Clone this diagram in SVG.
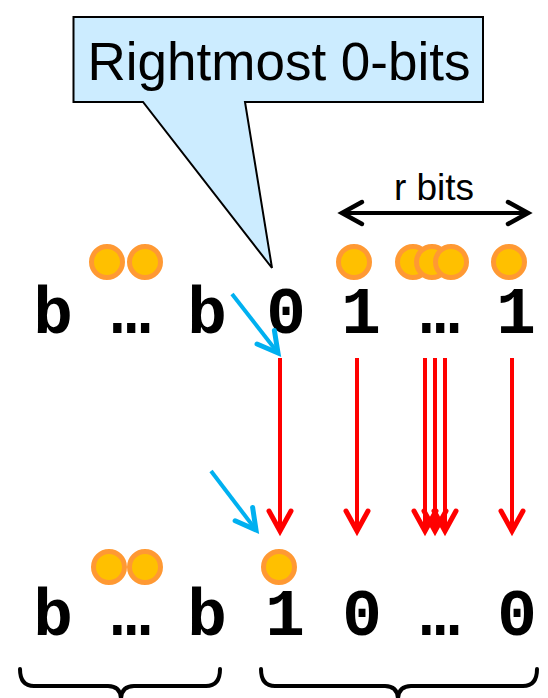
<svg xmlns="http://www.w3.org/2000/svg" width="548" height="698" viewBox="0 0 548 698">
  <style>
    .bit { font-family: "Liberation Mono", "Courier New", monospace; font-weight: bold; font-size: 66px; fill: #000; text-anchor: middle; }
    .label { font-family: "Liberation Sans", Arial, sans-serif; fill: #000; }
    .coin { fill: #FFC000; stroke: #FF9933; stroke-width: 5; }
    .red { stroke: #FF0000; stroke-width: 4; fill: none; marker-end: url(#redHead); }
    .blue { stroke: #00B0F0; stroke-width: 4; fill: none; marker-end: url(#blueHead); }
    .brace { stroke: #000; stroke-width: 4; fill: none; stroke-linecap: round; stroke-linejoin: round; }
  </style>
  <defs>
    <marker id="redHead" markerUnits="userSpaceOnUse" markerWidth="40" markerHeight="40" viewBox="-30 -20 40 40" refX="0" refY="0" orient="auto">
      <path d="M-20,-11 L0,0 L-20,11" fill="none" stroke="#FF0000" stroke-width="5" stroke-linecap="round"/>
    </marker>
    <marker id="blueHead" markerUnits="userSpaceOnUse" markerWidth="40" markerHeight="40" viewBox="-30 -20 40 40" refX="0" refY="0" orient="auto">
      <path d="M-20,-11 L0,0 L-20,11" fill="none" stroke="#00B0F0" stroke-width="5" stroke-linecap="round"/>
    </marker>
    <marker id="blackHead" markerUnits="userSpaceOnUse" markerWidth="40" markerHeight="40" viewBox="-30 -20 40 40" refX="0" refY="0" orient="auto-start-reverse">
      <path d="M-20,-11 L0,0 L-20,11" fill="none" stroke="#000" stroke-width="4.5" stroke-linecap="round"/>
    </marker>
  </defs>

  <rect width="548" height="698" fill="#fff"/>

  <!-- callout -->
  <g id="callout">
    <path d="M73.5,17 H483 V102 H245 L272,268 L143,102 H73.5 Z" fill="#CCECFF" stroke="#000" stroke-width="2"/>
    <text class="label" x="279" y="80" font-size="53" text-anchor="middle">Rightmost 0-bits</text>
  </g>

  <!-- r bits span -->
  <g id="rbits">
    <line x1="342" y1="213" x2="528" y2="213" stroke="#000" stroke-width="4" marker-start="url(#blackHead)" marker-end="url(#blackHead)"/>
    <text class="label" x="434" y="200" font-size="37" text-anchor="middle">r bits</text>
  </g>

  <!-- original value -->
  <g id="before">
    <circle class="coin" cx="107" cy="262" r="15.5"/>
    <circle class="coin" cx="145" cy="262" r="15.5"/>
    <circle class="coin" cx="354" cy="262" r="15.5"/>
    <circle class="coin" cx="413" cy="262" r="15.5"/>
    <circle class="coin" cx="432" cy="262" r="15.5"/>
    <circle class="coin" cx="451" cy="262" r="15.5"/>
    <circle class="coin" cx="509" cy="262" r="15.5"/>
    <text class="bit" x="53" y="333">b</text>
    <text class="bit" x="131" y="333">…</text>
    <text class="bit" x="207" y="333">b</text>
    <text class="bit" x="286" y="333">0</text>
    <text class="bit" x="361" y="333">1</text>
    <text class="bit" x="440" y="333">…</text>
    <text class="bit" x="516" y="333">1</text>
  </g>

  <!-- incremented value -->
  <g id="after">
    <circle class="coin" cx="109" cy="567" r="15.5"/>
    <circle class="coin" cx="145" cy="567" r="15.5"/>
    <circle class="coin" cx="279" cy="567" r="15.5"/>
    <text class="bit" x="53" y="635">b</text>
    <text class="bit" x="131" y="635">…</text>
    <text class="bit" x="207" y="635">b</text>
    <text class="bit" x="285" y="635">1</text>
    <text class="bit" x="362" y="635">0</text>
    <text class="bit" x="440" y="635">…</text>
    <text class="bit" x="517" y="635">0</text>
  </g>

  <!-- braces -->
  <g id="braces">
    <path class="brace" d="M20,669 Q20,686 34,686 L108,686 Q121,686 121,700 Q121,686 134,686 L206,686 Q220,686 220,669"/>
    <path class="brace" d="M261,669 Q261,686 275,686 L385,686 Q398,686 398,700 Q398,686 411,686 L523,686 Q537,686 537,669"/>
  </g>

  <!-- connectors -->
  <g id="connectors">
    <line class="red" x1="280" y1="358" x2="280" y2="531"/>
    <line class="red" x1="357" y1="358" x2="357" y2="531"/>
    <line class="red" x1="425" y1="358" x2="425" y2="531"/>
    <line class="red" x1="435" y1="358" x2="435" y2="531"/>
    <line class="red" x1="445" y1="358" x2="445" y2="531"/>
    <line class="red" x1="512" y1="358" x2="512" y2="531"/>
    <line class="blue" x1="232" y1="294" x2="278" y2="353"/>
    <line class="blue" x1="211" y1="471" x2="256" y2="530"/>
  </g>
</svg>
